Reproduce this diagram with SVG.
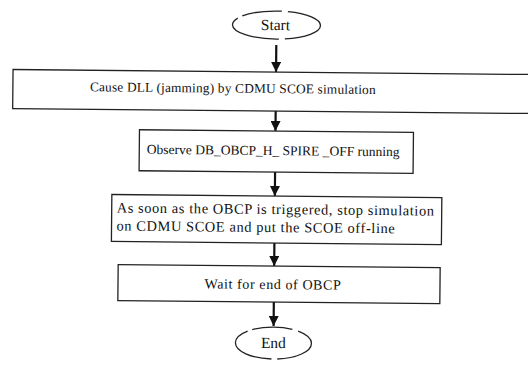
<svg xmlns="http://www.w3.org/2000/svg" width="528" height="365" viewBox="0 0 528 365">
  <defs>
    <marker id="arrow" viewBox="0 0 10 10" refX="10" refY="5" markerWidth="10" markerHeight="10" markerUnits="userSpaceOnUse" orient="auto">
      <path d="M0,0 L10,5 L0,10 Z" fill="#111"/>
    </marker>
    <style>
      .box { fill: #fff; stroke: #222; stroke-width: 1.3; }
      .term { fill: #fff; stroke: #222; stroke-width: 1.3; stroke-dasharray: 40 6 60 5; }
      .lbl { font-family: "Liberation Serif", "Times New Roman", serif; fill: #111; }
      .c { text-anchor: middle; }
      .link { stroke: #111; stroke-width: 2.2; fill: none; marker-end: url(#arrow); }
    </style>
  </defs>
  <rect width="528" height="365" fill="#fff"/>
  <g transform="rotate(0.55 270 180)">
    <g id="connectors">
      <line class="link" x1="275" y1="45" x2="275" y2="72"/>
      <line class="link" x1="275" y1="110" x2="275" y2="131"/>
      <line class="link" x1="275" y1="172" x2="275" y2="196"/>
      <line class="link" x1="275" y1="243" x2="275" y2="266"/>
      <line class="link" x1="275" y1="302" x2="275" y2="326"/>
    </g>
    <g id="start">
      <ellipse class="term" cx="275" cy="25" rx="44" ry="14"/>
      <text class="lbl c" x="274" y="30" font-size="15.5">Start</text>
    </g>
    <g id="cause-dll">
      <rect class="box" x="12" y="72" width="530" height="39"/>
      <text class="lbl c" x="232" y="93" font-size="13.3" letter-spacing="0.2">Cause  DLL (jamming) by CDMU SCOE simulation</text>
    </g>
    <g id="observe">
      <rect class="box" x="139" y="131" width="274" height="41"/>
      <text class="lbl c" x="273" y="155" font-size="13.5">Observe DB_OBCP_H_ SPIRE _OFF running</text>
    </g>
    <g id="stop-simulation">
      <rect class="box" x="112" y="196" width="330" height="47"/>
      <text class="lbl" x="117" y="214" font-size="14.4" letter-spacing="0.6">As soon as the OBCP is triggered, stop simulation</text>
      <text class="lbl" x="117" y="232" font-size="14.4" letter-spacing="0.6">on CDMU SCOE and put the SCOE off-line</text>
    </g>
    <g id="wait">
      <rect class="box" x="119" y="266" width="322" height="36"/>
      <text class="lbl c" x="274" y="289" font-size="14" letter-spacing="0.6">Wait for end of OBCP</text>
    </g>
    <g id="end">
      <ellipse class="term" cx="275" cy="343" rx="38" ry="16"/>
      <text class="lbl c" x="275" y="348" font-size="15.5">End</text>
    </g>
  </g>
</svg>
